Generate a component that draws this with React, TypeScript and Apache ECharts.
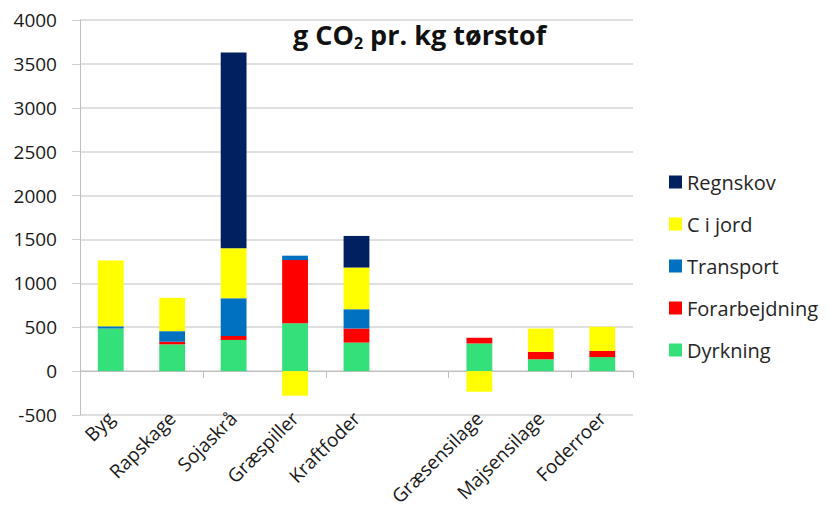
import React, { useEffect, useRef } from "react";
import * as echarts from "echarts";

const categories = ["Byg", "Rapskage", "Sojaskrå", "Græspiller", "Kraftfoder", "", "Græsensilage", "Majsensilage", "Foderroer"];
const dyrkning = [485, 305, 355, 545, 325, null, 315, 135, 160];
const forarbejdning = [0, 30, 45, 720, 160, null, 65, 85, 70];
const transport = [25, 120, 430, 50, 220, null, 0, 0, 0];
const ciJord = [750, 380, 570, -280, 475, null, -235, 265, 275];
const regnskov = [0, 0, 2230, 0, 360, null, 0, 0, 0];
const yTicks = { min: -500, max: 4000, interval: 500 };

const FONT = "'Open Sans', 'Noto Sans', sans-serif";

export default function App() {
  const ref = useRef<HTMLDivElement>(null);
  useEffect(() => {
    if (!ref.current) return;
    const chart = echarts.init(ref.current, null, { renderer: "svg" });
    const mk = (name: string, data: (number | null)[], color: string) => ({
      name,
      type: "bar",
      stack: "total",
      data,
      barWidth: "42%",
      xAxisIndex: 0,
      itemStyle: { color },
    });
    chart.setOption({
      animation: false,
      backgroundColor: "#ffffff",
      textStyle: { fontFamily: FONT },
      title: {
        left: 288,
        top: 13,
        text: "{b|g CO}{s|2}{b| pr. kg tørstof}",
        textStyle: {
          rich: {
            b: { fontSize: 27, fontWeight: "bold", color: "#111", fontFamily: FONT, lineHeight: 33 },
            s: { fontSize: 16, fontWeight: "bold", color: "#111", fontFamily: FONT, lineHeight: 10, verticalAlign: "bottom" },
          },
        },
      },
      legend: {
        orient: "vertical",
        left: 664,
        top: 167,
        itemWidth: 13,
        itemHeight: 13,
        itemGap: 22,
        icon: "rect",
        data: ["Regnskov", "C i jord", "Transport", "Forarbejdning", "Dyrkning"],
        textStyle: { fontSize: 20, color: "#262626", fontFamily: FONT },
      },
      grid: { left: 80, right: 197, top: 20, bottom: 96, containLabel: false, outerBoundsMode: "none" },
      xAxis: [
        {
          type: "category",
          data: categories,
          position: "bottom",
          axisLine: { show: false, onZero: false },
          axisTick: { show: false },
          axisLabel: { rotate: 45, fontSize: 19, color: "#1a1a1a", margin: 0, interval: 0, fontFamily: FONT },
        },
        {
          type: "category",
          data: categories,
          position: "bottom",
          axisLine: { show: true, onZero: true, lineStyle: { color: "#bfbfbf", width: 1 } },
          axisTick: { show: true, length: 7, lineStyle: { color: "#bfbfbf" } },
          axisLabel: { show: false },
        },
      ],
      yAxis: {
        type: "value",
        min: yTicks.min,
        max: yTicks.max,
        interval: yTicks.interval,
        axisLine: { show: true, lineStyle: { color: "#bfbfbf" } },
        axisTick: { show: true, length: 8, lineStyle: { color: "#d0d0d0" } },
        splitLine: { lineStyle: { color: "#d4d4d4", width: 1.5 } },
        axisLabel: { fontSize: 19, color: "#1a1a1a", margin: 23, fontFamily: FONT, formatter: (v: number) => String(v) },
      },
      series: [
        mk("Dyrkning", dyrkning, "#33e07a"),
        mk("Forarbejdning", forarbejdning, "#ff0000"),
        mk("Transport", transport, "#0070c0"),
        mk("C i jord", ciJord, "#ffff00"),
        mk("Regnskov", regnskov, "#002060"),
      ],
    });
    return () => chart.dispose();
  }, []);
  return <div ref={ref} style={{ width: 830, height: 511, position: "absolute", left: 0, top: 0 }} />;
}
